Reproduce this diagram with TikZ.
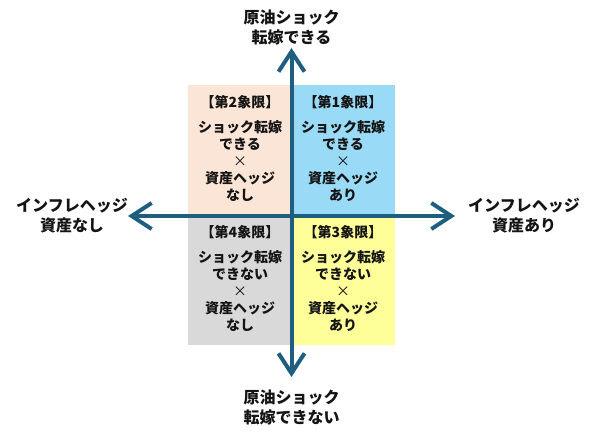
\documentclass[tikz,border=0pt]{standalone}
\usepackage{fontspec}
\setmainfont{Noto Sans CJK JP}
\usetikzlibrary{arrows.meta}
\definecolor{peachq}{RGB}{251,229,214}
\definecolor{skyq}{RGB}{153,218,246}
\definecolor{grayq}{RGB}{217,217,217}
\definecolor{yellowq}{RGB}{255,255,153}
\definecolor{axisc}{RGB}{30,95,128}
\definecolor{txt}{RGB}{20,20,20}
\newcommand{\thinx}{{\mdseries ×}}
\begin{document}
\begin{tikzpicture}[x=1pt,y=-1pt,
 qbox/.style={draw=none,inner sep=0pt,anchor=north west,minimum width=103.5pt,minimum height=130pt},
 qtitle/.style={font=\bfseries\fontsize{14}{17}\selectfont, inner sep=0pt, text=txt},
 qbody/.style={font=\bfseries\fontsize{14}{17.1}\selectfont, align=center, inner sep=0pt, text=txt},
 axlabel/.style={font=\bfseries\fontsize{16}{20}\selectfont, align=center, inner sep=0pt, text=txt},
 axisline/.style={draw=axisc, line width=4pt, {Straight Barb[length=20pt,width=26pt]}-{Straight Barb[length=20pt,width=26pt]}}
]
\useasboundingbox (0,0) rectangle (595,438);
\node[qbox, fill=peachq] (q2) at (188,85) {};
\node[qbox, fill=skyq] (q1) at (291.5,85) {};
\node[qbox, fill=grayq] (q4) at (188,215) {};
\node[qbox, fill=yellowq] (q3) at (291.5,215) {};

\node[qtitle] (t2) at (240,102) {【第2象限】};
\node[qtitle] (t1) at (343,102) {【第1象限】};
\node[qtitle] (t4) at (240,232) {【第4象限】};
\node[qtitle] (t3) at (343,232) {【第3象限】};

\node[qbody] (b2) at (240,161) {ショック転嫁\\できる\\\thinx\\資産ヘッジ\\なし};
\node[qbody] (b1) at (343,161) {ショック転嫁\\できる\\\thinx\\資産ヘッジ\\あり};
\node[qbody] (b4) at (240,291) {ショック転嫁\\できない\\\thinx\\資産ヘッジ\\なし};
\node[qbody] (b3) at (343,291) {ショック転嫁\\できない\\\thinx\\資産ヘッジ\\あり};

\coordinate (ntip) at (291.5,48);
\coordinate (stip) at (291.5,377);
\coordinate (wtip) at (128,216);
\coordinate (etip) at (455,216);
\draw[axisline] (stip) -- (ntip);
\draw[axisline] (wtip) -- (etip);

\node[axlabel] (lt) at (291.5,27) {原油ショック\\転嫁できる};
\node[axlabel] (lb) at (291.5,407) {原油ショック\\転嫁できない};
\node[axlabel] (ll) at (72,215.5) {インフレヘッジ\\資産なし};
\node[axlabel] (lr) at (524,215.5) {インフレヘッジ\\資産あり};
\end{tikzpicture}
\end{document}
